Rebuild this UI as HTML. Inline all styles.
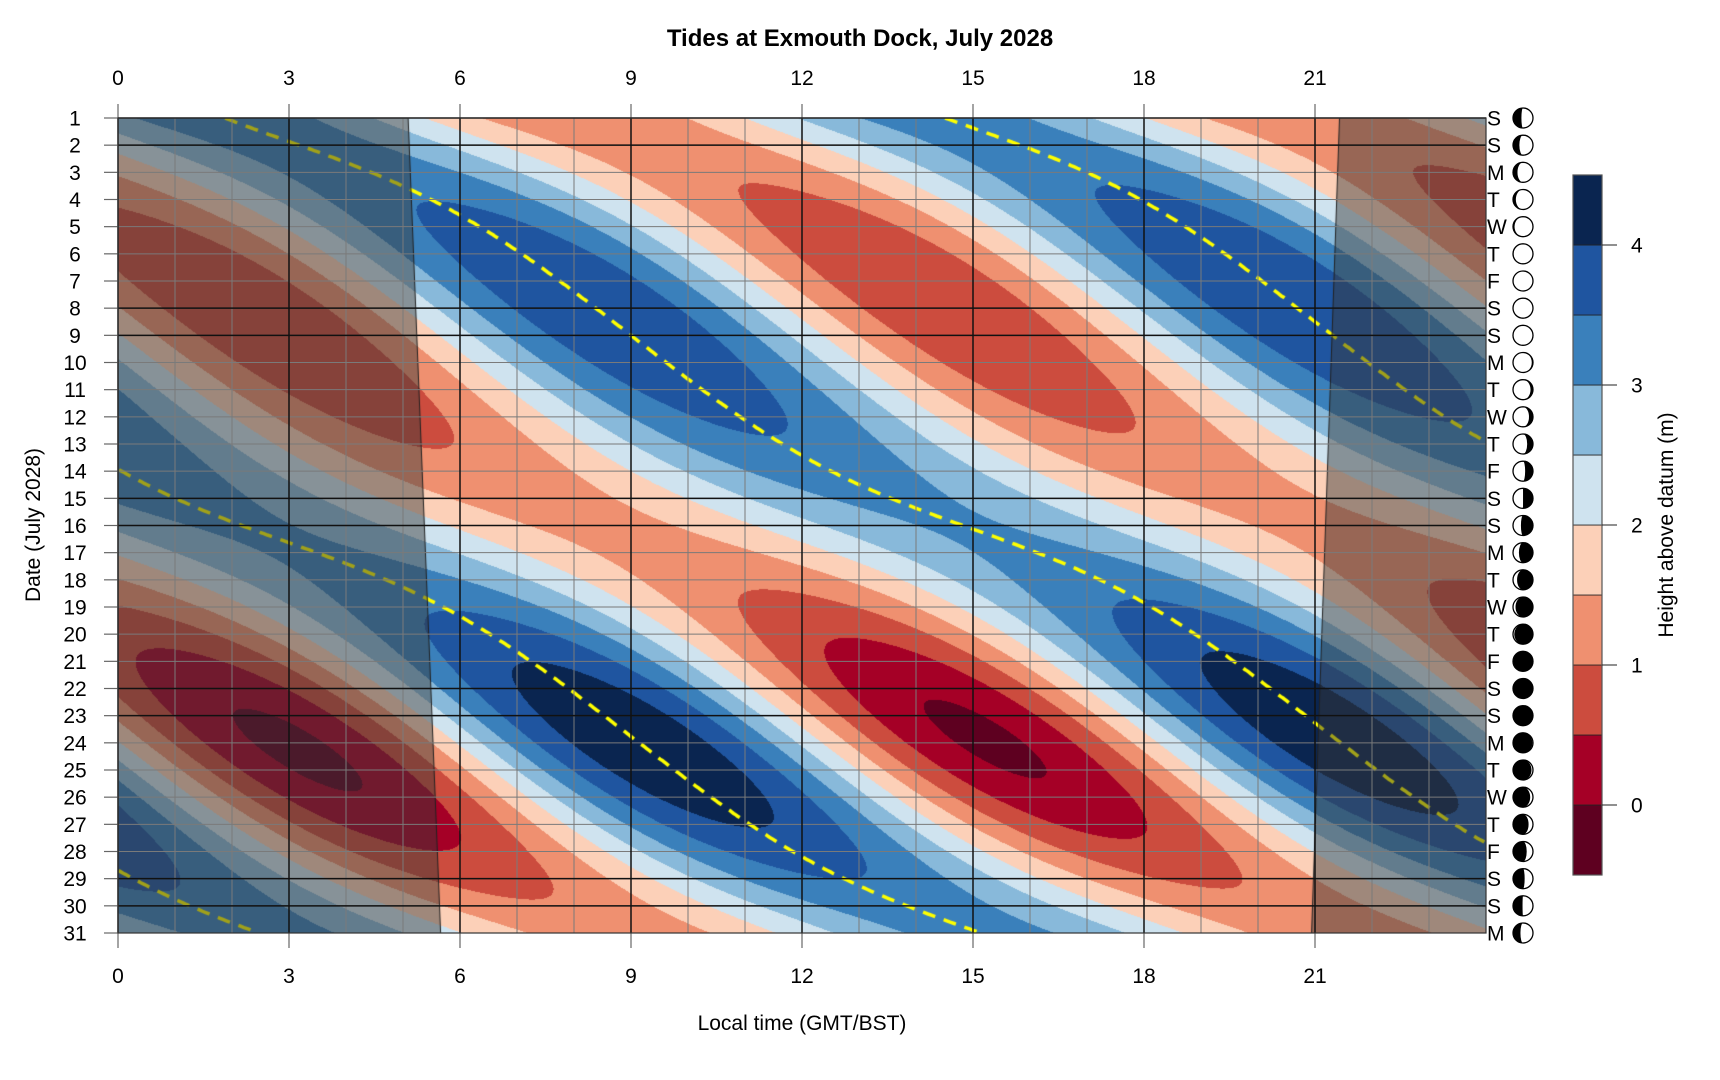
<!DOCTYPE html>
<html><head><meta charset="utf-8">
<style>
html,body{margin:0;padding:0;background:#fff;}
#wrap{position:relative;width:1720px;height:1080px;overflow:hidden;}
canvas,svg{position:absolute;left:0;top:0;}
text{font-family:"Liberation Sans",Arial,sans-serif;fill:#000;}
</style></head><body>
<div id="wrap">
<canvas id="c" width="1720" height="1080"></canvas>
<svg id="s" width="1720" height="1080" xmlns="http://www.w3.org/2000/svg"></svg>
</div>
<script>
const X0=118,X1=1486,Y0=118,Y1=933;
const PH=(X1-X0)/24, PD=(Y1-Y0)/30;
const cols=['#5e0020','#a50026','#cc4c3e','#ef9070','#fcd0b8','#cfe3ef','#88b9da','#3a80bb','#1f55a0','#0a2550'];
function rgb(h){return [parseInt(h.substr(1,2),16),parseInt(h.substr(3,2),16),parseInt(h.substr(5,2),16)];}
const crgb=cols.map(rgb);
function height(d,t){
  const p=1+0.17*Math.cos(2*Math.PI*(d-25.5)/27.55);
  const m2=Math.cos(2*Math.PI*(t-9-0.8412*(d-9))/12.4206);
  const s2=Math.cos(2*Math.PI*(t-9)/12);
  const mean=2.2+0.05*Math.cos(2*Math.PI*(d-9)/29);
  return mean+p*(1.45*m2+0.5*s2);
}
const cv=document.getElementById('c');const ctx=cv.getContext('2d');
const W=X1-X0,H=Y1-Y0;
const img=ctx.createImageData(W,H);
for(let py=0;py<H;py++){const d=1+py/PD;
 for(let px=0;px<W;px++){const t=px/PH;let h=height(d,t);
  let k=Math.floor((h+0.5)/0.5);if(k<0)k=0;if(k>9)k=9;
  const c=crgb[k];const i=(py*W+px)*4;img.data[i]=c[0];img.data[i+1]=c[1];img.data[i+2]=c[2];img.data[i+3]=255;}}
ctx.putImageData(img,X0,Y0);
// HW tracks
let tracks=[];let prev=[];
for(let d=1;d<=31.0001;d+=0.05){
  let ms=[];const step=0.01;let a=height(d,0),b=height(d,step);
  for(let t=step;t<24-step;t+=step){const c=height(d,t+step);if(b>a&&b>=c)ms.push(t);a=b;b=c;}
  let cur=[];
  for(const m of ms){let tr=null;for(const p of prev){if(Math.abs(p.pts[p.pts.length-1][1]-m)<0.6){tr=p;break;}}
    if(!tr){tr={pts:[]};tracks.push(tr);}tr.pts.push([d,m]);cur.push(tr);}
  prev=cur;}
ctx.save();ctx.beginPath();ctx.rect(X0,Y0,W,H);ctx.clip();
ctx.strokeStyle='#ffff00';ctx.lineWidth=3.5;ctx.setLineDash([13,9]);
for(const tr of tracks){if(tr.pts.length<2)continue;ctx.beginPath();
 tr.pts.forEach((p,i)=>{const x=X0+p[1]*PH,y=Y0+(p[0]-1)*PD;if(i)ctx.lineTo(x,y);else ctx.moveTo(x,y);});ctx.stroke();}
ctx.setLineDash([]);
// night overlay
ctx.fillStyle='rgba(55,55,55,0.47)';
const sl=[5.09,5.66],ss=[21.43,20.94];
ctx.beginPath();ctx.moveTo(X0,Y0);ctx.lineTo(X0+sl[0]*PH,Y0);ctx.lineTo(X0+sl[1]*PH,Y1);ctx.lineTo(X0,Y1);ctx.closePath();ctx.fill();
ctx.beginPath();ctx.moveTo(X1,Y0);ctx.lineTo(X0+ss[0]*PH,Y0);ctx.lineTo(X0+ss[1]*PH,Y1);ctx.lineTo(X1,Y1);ctx.closePath();ctx.fill();
ctx.strokeStyle='#222';ctx.lineWidth=1;
ctx.beginPath();ctx.moveTo(X0+sl[0]*PH,Y0);ctx.lineTo(X0+sl[1]*PH,Y1);ctx.moveTo(X0+ss[0]*PH,Y0);ctx.lineTo(X0+ss[1]*PH,Y1);ctx.stroke();
ctx.restore();
// SVG
let s='';
for(let h=0;h<=24;h++){const x=X0+h*PH;s+=`<line x1="${x}" y1="${Y0}" x2="${x}" y2="${Y1}" stroke="#7a7a7a" stroke-width="1"/>`;}
for(let d=1;d<=31;d++){const y=Y0+(d-1)*PD;s+=`<line x1="${X0}" y1="${y}" x2="${X1}" y2="${y}" stroke="#7a7a7a" stroke-width="1"/>`;}
for(let h=0;h<=21;h+=3){const x=X0+h*PH;s+=`<line x1="${x}" y1="${Y0}" x2="${x}" y2="${Y1}" stroke="#111" stroke-width="1.5"/>`;
 s+=`<line x1="${x}" y1="${Y0-14}" x2="${x}" y2="${Y0}" stroke="#666" stroke-width="1.2"/><line x1="${x}" y1="${Y1}" x2="${x}" y2="${Y1+15}" stroke="#666" stroke-width="1.2"/>`;
 s+=`<text x="${x}" y="85" font-size="21" text-anchor="middle">${h}</text><text x="${x}" y="983" font-size="21" text-anchor="middle">${h}</text>`;}
const wd=['S','S','M','T','W','T','F'];
for(let d=1;d<=31;d++){const y=Y0+(d-1)*PD;
 if([1,2,8,9,15,16,22,23,29,30].includes(d))s+=`<line x1="${X0}" y1="${y}" x2="${X1}" y2="${y}" stroke="#111" stroke-width="1.5"/>`;
 s+=`<line x1="${X0-14}" y1="${y}" x2="${X0}" y2="${y}" stroke="#666" stroke-width="1.2"/>`;
 s+=`<text x="75" y="${y+7.5}" font-size="21" text-anchor="middle">${d}</text>`;
 s+=`<text x="1487" y="${y+7.5}" font-size="21">${wd[(d-1)%7]}</text>`;
 const cx=1523,cy=y,r=10;
 let ph=((d-22.4)/29.53)%1;if(ph<0)ph+=1;const phi=2*Math.PI*ph;const rx=Math.abs(Math.cos(phi))*r;
 let path;
 if(phi<Math.PI){const sw=(phi<Math.PI/2)?0:1;path=`M${cx},${cy-r} A${r},${r} 0 0 1 ${cx},${cy+r} A${rx},${r} 0 0 ${sw} ${cx},${cy-r}Z`;}
 else{const sw=(phi>1.5*Math.PI)?1:0;path=`M${cx},${cy-r} A${r},${r} 0 0 0 ${cx},${cy+r} A${rx},${r} 0 0 ${sw} ${cx},${cy-r}Z`;}
 s+=`<circle cx="${cx}" cy="${cy}" r="${r}" fill="#000"/><path d="${path}" fill="#fff"/><circle cx="${cx}" cy="${cy}" r="${r}" fill="none" stroke="#000" stroke-width="1.3"/>`;}
s+=`<rect x="${X0}" y="${Y0}" width="${W}" height="${H}" fill="none" stroke="#333" stroke-width="1.2"/>`;
// colorbar
for(let k=0;k<10;k++){const yb=875-k*70;s+=`<rect x="1573" y="${yb-70}" width="29" height="70" fill="${cols[k]}" stroke="#222" stroke-width="0.8"/>`;}
s+=`<rect x="1573" y="175" width="29" height="700" fill="none" stroke="#555" stroke-width="1.2"/>`;
for(let v=0;v<=4;v++){const y=805-v*140;s+=`<line x1="1602" y1="${y}" x2="1617" y2="${y}" stroke="#222" stroke-width="1"/><text x="1631" y="${y+7.5}" font-size="21">${v}</text>`;}
s+=`<text x="860" y="46" font-size="24" font-weight="bold" text-anchor="middle">Tides at Exmouth Dock, July 2028</text>`;
s+=`<text x="802" y="1030" font-size="21" text-anchor="middle">Local time (GMT/BST)</text>`;
s+=`<text transform="translate(40,525) rotate(-90)" font-size="21" text-anchor="middle">Date (July 2028)</text>`;
s+=`<text transform="translate(1673,525) rotate(-90)" font-size="21" text-anchor="middle">Height above datum (m)</text>`;
document.getElementById('s').innerHTML=s;
</script>
</body></html>
